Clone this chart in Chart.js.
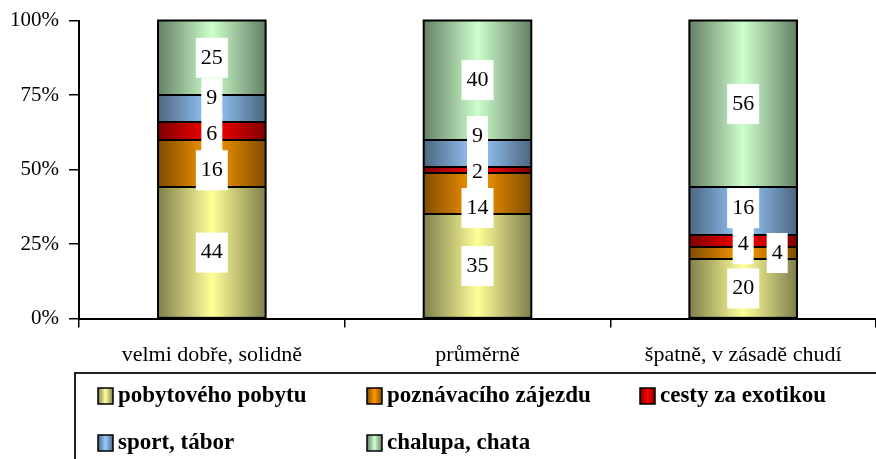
<!DOCTYPE html>
<html>
<head>
<meta charset="utf-8">
<script src="https://cdn.jsdelivr.net/npm/chart.js@4"></script>
<style>
  html, body { margin: 0; padding: 0; background: #fff; }
</style>
</head>
<body>
<canvas id="barChart" width="876" height="459"></canvas>
<script>
const categories = ['velmi dobře, solidně', 'průměrně', 'špatně, v zásadě chudí'];
const seriesNames = ['pobytového pobytu', 'poznávacího zájezdu', 'cesty za exotikou', 'sport, tábor', 'chalupa, chata'];
const pobytovy = [44, 35, 20];
const poznavaci = [16, 14, 4];
const exotika = [6, 2, 4];
const sport = [9, 9, 16];
const chalupa = [25, 40, 56];
const yTicks = [0, 25, 50, 75, 100];

// light (middle of bar) and dark (bar edges) shades
const lightColors = ['#ffff99', '#ff9900', '#ff0000', '#99ccff', '#ccffcc'];
const darkColors = ['#7f7f4c', '#7f4c00', '#7f0000', '#4c667f', '#667f66'];

const SERIF = '"Liberation Serif", "Times New Roman", serif';
const BAR_PCT = 0.405;
const LABEL_STEP = 36;
// manual sideways move of one crowded label (dataset-index)
const labelShiftX = { '1-2': 34 };

function shade(c, x0, x1, light, dark) {
  const g = c.createLinearGradient(x0, 0, x1, 0);
  g.addColorStop(0, dark);
  g.addColorStop(0.5, light);
  g.addColorStop(1, dark);
  return g;
}

function barFill(d) {
  return ctx => {
    const chart = ctx.chart;
    const x = chart.scales.x;
    if (!x || ctx.dataIndex === undefined) return lightColors[d];
    const center = x.getPixelForValue(ctx.dataIndex);
    const half = (x.width / categories.length) * BAR_PCT / 2;
    if (!isFinite(center) || !isFinite(half) || half <= 0) return lightColors[d];
    return shade(chart.ctx, center - half, center + half, lightColors[d], darkColors[d]);
  };
}

const boxLabels = {
  id: 'boxLabels',
  afterDatasetsDraw(chart) {
    const c = chart.ctx;
    const n = chart.data.datasets.length;
    c.save();
    // black outline round each column and between its segments
    c.lineWidth = 2;
    c.strokeStyle = '#000';
    categories.forEach((_, i) => {
      const first = chart.getDatasetMeta(0).data[i];
      const last = chart.getDatasetMeta(n - 1).data[i];
      const left = first.x - first.width / 2;
      c.strokeRect(left, last.y, first.width, first.base - last.y);
      c.beginPath();
      for (let d = 0; d < n - 1; d++) {
        const y = Math.round(chart.getDatasetMeta(d).data[i].y);
        c.moveTo(left, y);
        c.lineTo(left + first.width, y);
      }
      c.stroke();
    });
    c.font = '22px ' + SERIF;
    c.textAlign = 'center';
    c.textBaseline = 'middle';
    categories.forEach((_, i) => {
      const items = [];
      chart.data.datasets.forEach((ds, d) => {
        const bar = chart.getDatasetMeta(d).data[i];
        const shift = labelShiftX[d + '-' + i] || 0;
        items.push({ text: String(ds.data[i]), x: bar.x + shift, y: (bar.y + bar.base) / 2, free: shift !== 0 });
      });
      // push stacked labels apart so the boxes don't sit on top of each other
      const stack = items.filter(it => !it.free).sort((a, b) => a.y - b.y);
      for (let k = 0; k < 80; k++) {
        for (let j = 1; j < stack.length; j++) {
          const gap = stack[j].y - stack[j - 1].y;
          if (gap < LABEL_STEP) {
            const p = (LABEL_STEP - gap) / 2;
            stack[j - 1].y -= p;
            stack[j].y += p;
          }
        }
      }
      c.fillStyle = '#fff';
      items.forEach(it => {
        const w = c.measureText(it.text).width + 10;
        c.fillRect(it.x - w / 2, it.y - 20, w, 40);
      });
      c.fillStyle = '#000';
      items.forEach(it => c.fillText(it.text, it.x, it.y));
    });
    c.restore();
  }
};

const boxLegend = {
  id: 'boxLegend',
  afterDraw(chart) {
    const c = chart.ctx;
    const cols = [98, 367, 640];
    const rows = [396, 443];
    c.save();
    c.lineWidth = 2;
    c.strokeStyle = '#222';
    c.strokeRect(75, 373, 900, 200);
    c.font = 'bold 23px ' + SERIF;
    c.textBaseline = 'middle';
    chart.data.datasets.forEach((ds, d) => {
      const x = cols[d % 3];
      const y = rows[Math.floor(d / 3)];
      c.fillStyle = shade(c, x, x + 15, lightColors[d], darkColors[d]);
      c.fillRect(x, y - 8, 15, 16);
      c.lineWidth = 1.5;
      c.strokeStyle = '#000';
      c.strokeRect(x, y - 8, 15, 16);
      c.fillStyle = '#000';
      c.fillText(ds.label, x + 20, y);
    });
    c.restore();
  }
};

const seriesValues = [pobytovy, poznavaci, exotika, sport, chalupa];

new Chart(document.getElementById('barChart'), {
  type: 'bar',
  data: {
    labels: categories,
    datasets: seriesValues.map((vals, d) => ({
      label: seriesNames[d],
      data: vals,
      backgroundColor: barFill(d),
      borderColor: '#000',
      borderWidth: 0,
      barPercentage: BAR_PCT,
      categoryPercentage: 1,
    })),
  },
  options: {
    responsive: false,
    animation: false,
    layout: { padding: { top: 6, left: 0, right: 0, bottom: 77 } },
    plugins: {
      legend: { display: false },
      tooltip: { enabled: false },
    },
    scales: {
      x: {
        stacked: true,
        grid: { drawOnChartArea: false, tickLength: 9, color: '#000', lineWidth: 1.5 },
        border: { color: '#000', width: 2 },
        ticks: { color: '#000', font: { family: SERIF, size: 22 }, padding: 14, maxRotation: 0 },
      },
      y: {
        stacked: true,
        min: 0,
        max: 100,
        afterBuildTicks: s => { s.ticks = yTicks.map(v => ({ value: v })); },
        grid: { drawOnChartArea: false, tickLength: 10, color: '#000', lineWidth: 1.5 },
        border: { color: '#000', width: 2 },
        ticks: { color: '#000', font: { family: SERIF, size: 21, lineHeight: 1 }, padding: 10, callback: v => v + '%' },
      },
    },
  },
  plugins: [boxLabels, boxLegend],
});
</script>
</body>
</html>
